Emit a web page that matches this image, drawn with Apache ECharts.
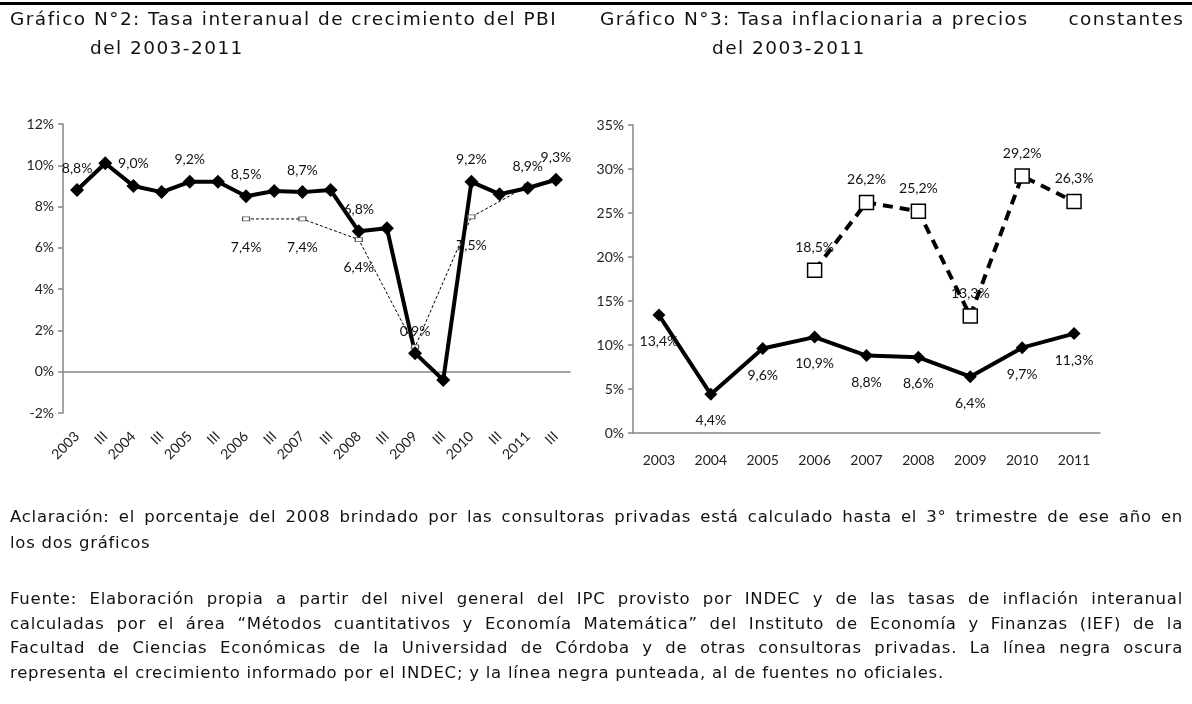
<!DOCTYPE html>
<html>
<head>
<meta charset="utf-8">
<script src="https://cdn.jsdelivr.net/npm/echarts@6/dist/echarts.min.js"></script>
<style>
  html, body { margin: 0; padding: 0; background: #fff; }
  #page { position: relative; width: 1192px; height: 704px; overflow: hidden; }
  #chart { position: absolute; left: 0; top: 0; width: 1192px; height: 704px; }
  .txt { position: absolute; font-family: "DejaVu Sans", Verdana, sans-serif; color: #111; }
  .title { font-size: 18.5px; line-height: 29px; letter-spacing: 1.45px; }
  .note { font-size: 16.5px; line-height: 24.5px; left: 10px; width: 1173px; letter-spacing: 0.75px; }
  .just { text-align: justify; text-align-last: justify; }
  #rule { position: absolute; left: 0; top: 2px; width: 1192px; height: 3px; background: #000; }
</style>
</head>
<body>
<div id="page">
  <div id="chart"></div>
  <div id="rule"></div>
  <div class="txt title" style="left:10px; top:4px;">Gráfico N°2: Tasa interanual de crecimiento del PBI<br><span style="padding-left:80px;">del 2003-2011</span></div>
  <div class="txt title" style="left:600px; top:4px; width:583px;">
    <div style="display:flex; justify-content:space-between;"><span>Gráfico N°3: Tasa inflacionaria a precios</span><span style="margin-right:-1.4px;">constantes</span></div>
    <div style="padding-left:112px;">del 2003-2011</div>
  </div>
  <div class="txt note" style="top:504px; line-height:26px;">
    <div class="just">Aclaración: el porcentaje del 2008 brindado por las consultoras privadas está calculado hasta el 3° trimestre de ese año en</div>
    <div>los dos gráficos</div>
  </div>
  <div class="txt note" style="top:587px;">
    <div class="just">Fuente: Elaboración propia a partir del nivel general del IPC provisto por INDEC y de las tasas de inflación interanual</div>
    <div class="just">calculadas por el área “Métodos cuantitativos y Economía Matemática” del Instituto de Economía y Finanzas (IEF) de la</div>
    <div class="just">Facultad de Ciencias Económicas de la Universidad de Córdoba y de otras consultoras privadas. La línea negra oscura</div>
    <div>representa el crecimiento informado por el INDEC; y la línea negra punteada, al de fuentes no oficiales.</div>
  </div>
</div>
<script>
// Gráfico 2: PBI, semestral (año / III trimestre)
var quarters = ['2003', 'III', '2004', 'III', '2005', 'III', '2006', 'III', '2007', 'III',
                '2008', 'III', '2009', 'III', '2010', 'III', '2011', 'III'];
var pbiIndec = [8.8, 10.1, 9.0, 8.7, 9.2, 9.2, 8.5, 8.75, 8.7, 8.8,
                6.8, 6.95, 0.9, -0.4, 9.2, 8.6, 8.9, 9.3];
var pbiPrivado = [null, null, null, null, null, null, 7.4, null, 7.4, null,
                  6.4, null, 1.2, null, 7.5, null, 9.0, null];
var pbiIndecLabels = [0, 2, 4, 6, 8, 10, 12, 14, 16, 17];
var pbiPrivadoLabels = [6, 8, 10, 14];
var pbiTicks = [-2, 12, 2];

// Gráfico 3: inflación anual
var years = ['2003', '2004', '2005', '2006', '2007', '2008', '2009', '2010', '2011'];
var inflIndec = [13.4, 4.4, 9.6, 10.9, 8.8, 8.6, 6.4, 9.7, 11.3];
var inflPrivado = [null, null, null, 18.5, 26.2, 25.2, 13.3, 29.2, 26.3];
var inflTicks = [0, 35, 5];

var chart = echarts.init(document.getElementById('chart'));

var FONT = 'Lato';
var AXIS = '#868686';

function pct (v) {
    return v.toFixed(1).replace('.', ',') + '%';
}

function withLabels (values, idx) {
    return values.map(function (v, i) {
        if (v === null) return null;
        return { value: v, label: { show: idx.indexOf(i) >= 0 } };
    });
}

var labelStyle = {
    color: '#111',
    fontFamily: FONT,
    fontSize: 14,
    formatter: function (p) { return pct(p.value); }
};

var yAxisBase = {
    type: 'value',
    axisLine: { show: true, lineStyle: { color: AXIS, width: 1.5 } },
    axisTick: { show: true, length: 5, lineStyle: { color: AXIS, width: 1.5 } },
    splitLine: { show: false },
    axisLabel: { color: '#222', fontFamily: FONT, fontSize: 14, margin: 9, formatter: '{value}%' }
};

var option = {
    animation: false,
    grid: [
        { left: 63, top: 124, width: 507, height: 289 },
        { left: 633, top: 125, width: 467, height: 308 }
    ],
    xAxis: [
        {
            gridIndex: 0, type: 'category', data: quarters,
            axisLine: { onZero: true, lineStyle: { color: AXIS, width: 1.5 } },
            axisTick: { interval: 0, length: 5, lineStyle: { color: AXIS, width: 1.5 } },
            axisLabel: { show: false }
        },
        {
            gridIndex: 0, type: 'category', data: quarters, position: 'bottom',
            axisLine: { show: false, onZero: false },
            axisTick: { show: false },
            axisLabel: { interval: 0, rotate: 45, margin: 21, color: '#222', fontFamily: FONT, fontSize: 14 }
        },
        {
            gridIndex: 1, type: 'category', data: years,
            axisLine: { lineStyle: { color: AXIS, width: 1.5 } },
            axisTick: { interval: 0, length: 5, lineStyle: { color: AXIS, width: 1.5 } },
            axisLabel: { interval: 0, margin: 20, color: '#222', fontFamily: FONT, fontSize: 14 }
        }
    ],
    yAxis: [
        Object.assign({}, yAxisBase, { gridIndex: 0, min: pbiTicks[0], max: pbiTicks[1], interval: pbiTicks[2] }),
        Object.assign({}, yAxisBase, { gridIndex: 1, min: inflTicks[0], max: inflTicks[1], interval: inflTicks[2] })
    ],
    series: [
        {
            type: 'line', xAxisIndex: 0, yAxisIndex: 0,
            data: withLabels(pbiPrivado, pbiPrivadoLabels),
            connectNulls: true,
            symbol: 'rect', symbolSize: [7, 4],
            itemStyle: { color: '#fff', borderColor: '#555', borderWidth: 1 },
            lineStyle: { color: '#000', width: 1, type: [3, 2] },
            label: Object.assign({ position: 'bottom', distance: 19 }, labelStyle)
        },
        {
            type: 'line', xAxisIndex: 0, yAxisIndex: 0,
            data: withLabels(pbiIndec, pbiIndecLabels),
            symbol: 'diamond', symbolSize: 14,
            itemStyle: { color: '#000' },
            lineStyle: { color: '#000', width: 4 },
            label: Object.assign({ position: 'top', distance: 8 }, labelStyle)
        },
        {
            type: 'line', xAxisIndex: 2, yAxisIndex: 1,
            data: inflIndec,
            symbol: 'diamond', symbolSize: 13,
            itemStyle: { color: '#000' },
            lineStyle: { color: '#000', width: 4 },
            label: Object.assign({ show: true, position: 'bottom', distance: 13 }, labelStyle)
        },
        {
            type: 'line', xAxisIndex: 2, yAxisIndex: 1,
            data: inflPrivado,
            connectNulls: true,
            symbol: 'rect', symbolSize: 14,
            itemStyle: { color: '#fff', borderColor: '#000', borderWidth: 1.5 },
            lineStyle: { color: '#000', width: 4, type: [10, 7] },
            label: Object.assign({ show: true, position: 'top', distance: 8 }, labelStyle)
        }
    ]
};

chart.setOption(option);
</script>
</body>
</html>
